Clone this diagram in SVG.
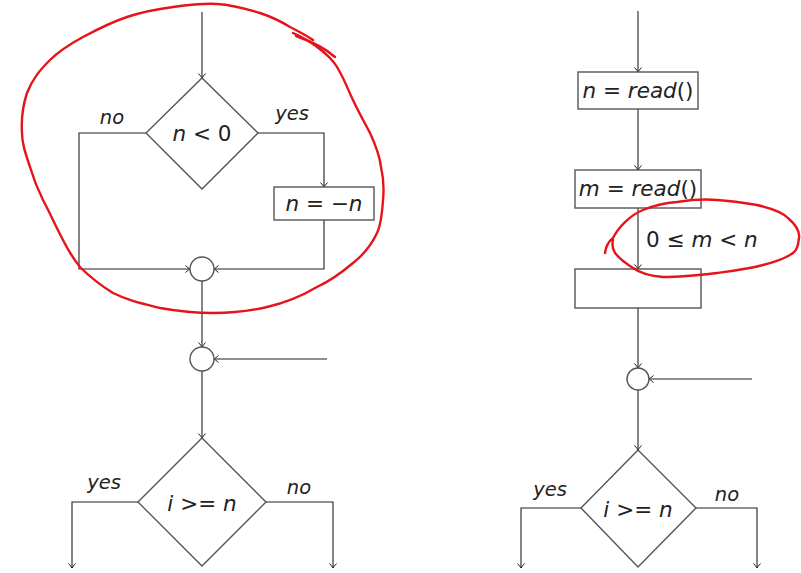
<svg xmlns="http://www.w3.org/2000/svg" width="801" height="573" viewBox="0 0 801 573">
<defs>
<marker id="arr" markerUnits="userSpaceOnUse" markerWidth="12" markerHeight="12" viewBox="-6 -6 12 12" refX="0" refY="0" orient="auto">
<path d="M-4.5,-3.5 Q-1.5,-0.8 0,0 Q-1.5,0.8 -4.5,3.5" fill="none" stroke="#222" stroke-width="1"/>
</marker>
<style>
.ln{fill:none;stroke:#222;stroke-width:1.1}
.shape{fill:#fff;stroke:#555;stroke-width:1.4}
.t{font-family:"DejaVu Sans",sans-serif;font-size:21.5px;fill:#222;text-anchor:middle}
.i{font-style:italic}
.lbl{font-family:"DejaVu Sans",sans-serif;font-size:19.5px;font-style:italic;fill:#222;text-anchor:middle}
.red{fill:none;stroke:#e8131a;stroke-width:2.4;stroke-linecap:round;stroke-linejoin:round}
</style>
</defs>
<rect width="801" height="573" fill="#fff"/>

<g id="connectors">
<path class="ln" d="M202,12 V78" marker-end="url(#arr)"/>
<path class="ln" d="M146,133 H79 V269 H190" marker-end="url(#arr)"/>
<path class="ln" d="M258,133 H324 V187" marker-end="url(#arr)"/>
<path class="ln" d="M324,220 V269 H214" marker-end="url(#arr)"/>
<path class="ln" d="M202,281 V347" marker-end="url(#arr)"/>
<path class="ln" d="M327,359 H214" marker-end="url(#arr)"/>
<path class="ln" d="M202,371 V438" marker-end="url(#arr)"/>
<path class="ln" d="M138,502 H72 V568" marker-end="url(#arr)"/>
<path class="ln" d="M266,502 H333 V568" marker-end="url(#arr)"/>

<path class="ln" d="M638,11 V72" marker-end="url(#arr)"/>
<path class="ln" d="M638,109 V170" marker-end="url(#arr)"/>
<path class="ln" d="M638,208 V269" marker-end="url(#arr)"/>
<path class="ln" d="M638,308 V368" marker-end="url(#arr)"/>
<path class="ln" d="M752,379 H649" marker-end="url(#arr)"/>
<path class="ln" d="M638,390 V450" marker-end="url(#arr)"/>
<path class="ln" d="M581,508 H521 V568" marker-end="url(#arr)"/>
<path class="ln" d="M696,508 H757 V568" marker-end="url(#arr)"/>

<text class="lbl" x="112" y="124">no</text>
<text class="lbl" x="292" y="120">yes</text>
<text class="lbl" x="104" y="489">yes</text>
<text class="lbl" x="299" y="494">no</text>
<text class="lbl" x="550" y="496">yes</text>
<text class="lbl" x="727" y="501">no</text>
<text class="t" x="646" y="247" style="text-anchor:start">0 ≤ <tspan class="i">m</tspan> &lt; <tspan class="i">n</tspan></text>
</g>

<g id="dec1">
<polygon class="shape" points="202,78 258,133 202,189 146,133"/>
<text class="t" x="202" y="141"><tspan class="i">n</tspan> &lt; 0</text>
</g>
<g id="neg">
<rect class="shape" x="274" y="187" width="100" height="33"/>
<text class="t" x="324" y="211"><tspan class="i">n</tspan> = −<tspan class="i">n</tspan></text>
</g>
<g id="join1"><circle class="shape" cx="202" cy="269" r="12"/></g>
<g id="join2"><circle class="shape" cx="202" cy="359" r="12"/></g>
<g id="dec2">
<polygon class="shape" points="202,438 266,502 202,566 138,502"/>
<text class="t" x="202" y="511"><tspan class="i">i</tspan> &gt;= <tspan class="i">n</tspan></text>
</g>

<g id="readn">
<rect class="shape" x="578" y="72" width="120" height="37"/>
<text class="t" x="638" y="98"><tspan class="i">n</tspan> = <tspan class="i">read</tspan>()</text>
</g>
<g id="readm">
<rect class="shape" x="575" y="170" width="126" height="38"/>
<text class="t" x="638" y="196"><tspan class="i">m</tspan> = <tspan class="i">read</tspan>()</text>
</g>
<g id="empty"><rect class="shape" x="575" y="269" width="126" height="39"/></g>
<g id="join3"><circle class="shape" cx="638" cy="379" r="11"/></g>
<g id="dec3">
<polygon class="shape" points="638,450 696,508 638,567 581,508"/>
<text class="t" x="638" y="517"><tspan class="i">i</tspan> &gt;= <tspan class="i">n</tspan></text>
</g>

<g id="annotations">
<path class="red" d="M293,33 C305,38 328,52 337,67 C345,80 348,90 353,100 C360,115 366,125 370,133 C377,148 380,158 381,167 C384,180 384,190 383,200 C382,215 381,225 377,233 C370,248 362,256 353,263 C340,274 330,281 317,287 C300,297 285,303 267,307 C250,311 230,313 213,313 C195,313 177,311 160,308 C140,303 127,300 113,293 C100,285 90,277 80,267 C72,257 68,250 63,240 C55,225 50,213 43,200 C37,188 33,177 30,167 C25,152 22,143 22,133 C21,117 23,105 27,93 C33,78 40,70 50,60 C60,50 72,43 83,37 C98,29 112,22 127,17 C142,12 158,9 173,7 C188,5 203,3 217,4 C233,5 247,9 260,13 C272,17 282,22 290,27 C300,32 310,38 313,40"/>
<path class="red" d="M296,36 C310,41 325,48 335,57"/>
<path class="red" d="M605,253 C606,246 609,241 613,238 C618,228 630,215 643,210 C655,205 665,203 677,202 C690,200 705,199 717,200 C732,201 745,203 757,205 C770,208 782,212 788,218 C796,225 800,232 799,238 C798,246 797,250 793,253 C785,259 775,262 763,265 C748,269 732,271 717,273 C700,275 680,277 663,277 C650,276 640,273 633,268 C625,263 619,258 615,253 C612,248 612,244 613,240"/>
</g>
</svg>
